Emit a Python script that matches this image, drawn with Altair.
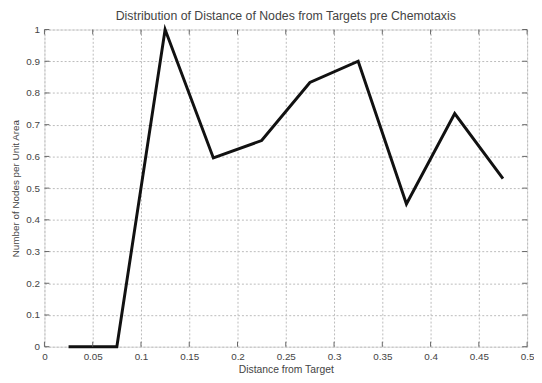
import altair as alt
import pandas as pd

distance = [0.025, 0.075, 0.125, 0.175, 0.225, 0.275, 0.325, 0.375, 0.425, 0.475]
density = [0.0, 0.0, 1.0, 0.595, 0.65, 0.833, 0.9, 0.45, 0.735, 0.53]
x_ticks = [0, 0.05, 0.1, 0.15, 0.2, 0.25, 0.3, 0.35, 0.4, 0.45, 0.5]
y_ticks = [0, 0.1, 0.2, 0.3, 0.4, 0.5, 0.6, 0.7, 0.8, 0.9, 1.0]

df = pd.DataFrame({"d": distance, "n": density})
xt = pd.DataFrame({"v": x_ticks})
yt = pd.DataFrame({"v": y_ticks})

FONT = "Liberation Sans"
W, H = 490, 322

xs = alt.Scale(domain=[0, 0.5], nice=False, zero=False)
ys = alt.Scale(domain=[0, 1], nice=False)

common = dict(format="~g", labelOverlap=False, tickCount=11, ticks=False, domain=False,
              grid=True, gridDash=[2, 2], gridColor="#bbbbbb",
              labelFont=FONT, titleFont=FONT, labelColor="#444", titleColor="#444",
              titleFontWeight="normal", labelFlush=False, labelFontSize=10, labelPadding=5)
x_axis = alt.Axis(values=x_ticks, titleFontSize=10.5, titlePadding=3, **common)
y_axis = alt.Axis(values=y_ticks, titleFontSize=10, titlePadding=5, **common)
XT = "Distance from Target"
YT = "Number of Nodes per Unit Area"

line = alt.Chart(df).mark_line(color="#111111", strokeWidth=3, strokeJoin="miter").encode(
    x=alt.X("d:Q", scale=xs, title=XT, axis=x_axis),
    y=alt.Y("n:Q", scale=ys, title=YT, axis=y_axis),
)

# inward ticks (MATLAB style) on all four sides
tick_col = "#666666"
bx = alt.Chart(xt).mark_rule(color=tick_col, strokeWidth=1).encode(
    x=alt.X("v:Q", scale=xs, title=XT, axis=x_axis), y=alt.value(H), y2=alt.value(H - 5))
tx = alt.Chart(xt).mark_rule(color=tick_col, strokeWidth=1).encode(
    x=alt.X("v:Q", scale=xs, title=XT, axis=x_axis), y=alt.value(0), y2=alt.value(5))
ly = alt.Chart(yt).mark_rule(color=tick_col, strokeWidth=1).encode(
    y=alt.Y("v:Q", scale=ys, title=YT, axis=y_axis), x=alt.value(0), x2=alt.value(5))
ry = alt.Chart(yt).mark_rule(color=tick_col, strokeWidth=1).encode(
    y=alt.Y("v:Q", scale=ys, title=YT, axis=y_axis), x=alt.value(W), x2=alt.value(W - 5))

chart = alt.layer(line, bx, tx, ly, ry).properties(
    width=W, height=H,
    title=alt.TitleParams("Distribution of Distance of Nodes from Targets pre Chemotaxis",
                          fontSize=12.5, font=FONT, fontWeight="normal", color="#444",
                          anchor="middle", offset=1),
    autosize=alt.AutoSizeParams(type="none"),
    padding={"left": 37, "top": 19, "right": 7, "bottom": 34},
).configure_axis(
    titleFontWeight="normal", labelOverlap=False,
).configure_view(stroke="#777777", strokeWidth=1.2).configure(background="white")

chart.save("out.html", embed_options={"renderer": "svg", "actions": False})
